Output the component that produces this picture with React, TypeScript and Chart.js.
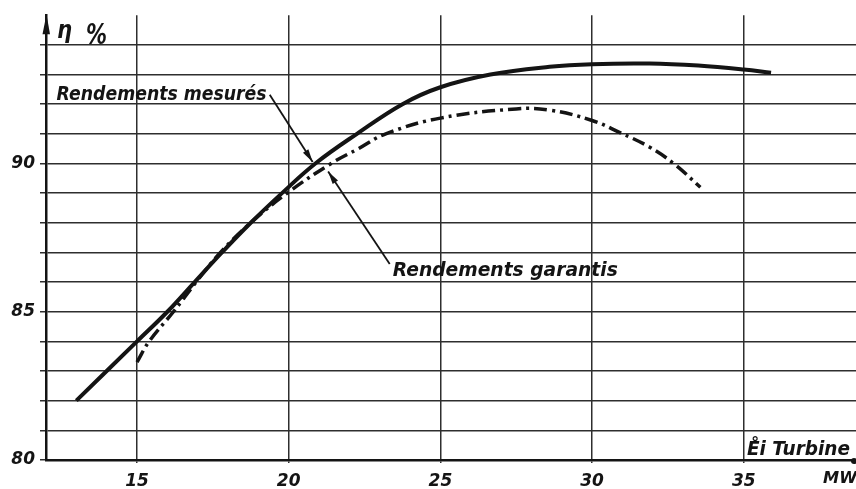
import React, { useEffect, useRef } from 'react';
import { Chart, registerables } from 'chart.js';

Chart.register(...registerables);

// Data
const measuredX = [13, 15, 16, 16.9, 17.8, 18.75, 19.78, 20.88, 22.25, 23.75, 25, 26.65, 28.6, 30, 31.9, 33.5, 35, 35.9];
const measuredY = [82, 84, 85, 86, 87, 88, 89, 90, 91, 92, 92.57, 93, 93.26, 93.35, 93.37, 93.3, 93.17, 93.06];
const guaranteedX = [15, 15.4, 16.2, 16.95, 17.75, 18.75, 19.95, 21.4, 22.3, 23.2, 25, 27.5, 28.6, 30, 30.9, 31.9, 32.7, 33.57];
const guaranteedY = [83.3, 84, 85, 86, 87, 88, 89, 90, 90.5, 91, 91.53, 91.84, 91.8, 91.45, 91.05, 90.55, 89.99, 89.2];
const xTicks = [15, 20, 25, 30, 35];
const yTicks = [80, 81, 82, 83, 84, 85, 86, 87, 88, 89, 90, 91, 92, 93, 94];
const yLabelled = [80, 85, 90];

const labelMeasured = 'Rendements mesurés';
const labelGuaranteed = 'Rendements garantis';
const yTitleSymbol = 'η';
const yTitleUnit = '%';
const xTitle = 'E\u030Ai Turbine';
const xUnit = 'MW';

const INK = '#141414';
const GRID = '#2e2e2e';
const FONT = '"DejaVu Sans", sans-serif';

function drawFit(ctx: CanvasRenderingContext2D, text: string, x: number, y: number, size: number, width?: number) {
  ctx.save();
  ctx.font = `italic bold ${size}px ${FONT}`;
  ctx.textAlign = 'left';
  ctx.textBaseline = 'alphabetic';
  ctx.fillStyle = INK;
  const w = ctx.measureText(text).width;
  ctx.translate(x, y);
  if (width) ctx.scale(width / w, 1);
  ctx.fillText(text, 0, 0);
  ctx.restore();
}

function leader(ctx: CanvasRenderingContext2D, x1: number, y1: number, x2: number, y2: number) {
  ctx.save();
  ctx.strokeStyle = INK;
  ctx.fillStyle = INK;
  ctx.lineWidth = 1.8;
  ctx.beginPath();
  ctx.moveTo(x1, y1);
  ctx.lineTo(x2, y2);
  ctx.stroke();
  const a = Math.atan2(y2 - y1, x2 - x1);
  const L = 13, H = 3.2;
  ctx.beginPath();
  ctx.moveTo(x2, y2);
  ctx.lineTo(x2 - L * Math.cos(a) + H * Math.sin(a), y2 - L * Math.sin(a) - H * Math.cos(a));
  ctx.lineTo(x2 - L * Math.cos(a) - H * Math.sin(a), y2 - L * Math.sin(a) + H * Math.cos(a));
  ctx.closePath();
  ctx.fill();
  ctx.restore();
}

const annotations = {
  id: 'annotations',
  beforeDraw(chart: any) {
    const { ctx, width, height } = chart;
    ctx.save();
    ctx.fillStyle = '#ffffff';
    ctx.fillRect(0, 0, width, height);
    ctx.restore();
  },
  afterDraw(chart: any) {
    const { ctx, chartArea, scales } = chart;
    const x = scales.x, y = scales.y;
    const px = (v: number) => x.getPixelForValue(v);
    const py = (v: number) => y.getPixelForValue(v);

    // y axis arrow
    const ax = chartArea.left;
    ctx.save();
    ctx.fillStyle = INK;
    ctx.beginPath();
    ctx.moveTo(ax + 0.5, chartArea.top - 1);
    ctx.lineTo(ax - 3.5, chartArea.top + 19);
    ctx.lineTo(ax + 4, chartArea.top + 19);
    ctx.closePath();
    ctx.fill();
    // x axis end dot
    ctx.beginPath();
    ctx.arc(chartArea.right - 2, chartArea.bottom + 1, 3, 0, Math.PI * 2);
    ctx.fill();
    ctx.restore();

    // axis titles
    drawFit(ctx, yTitleSymbol, ax + 11, chartArea.top + 23, 24, 15);
    drawFit(ctx, yTitleUnit, ax + 40, chartArea.top + 29, 28, 21);
    drawFit(ctx, xTitle, 747, chartArea.bottom - 5, 20, 103);
    drawFit(ctx, xUnit, 823, chartArea.bottom + 23, 15, 34);

    // curve labels with leaders
    drawFit(ctx, labelMeasured, px(12.35), py(92.15), 20, 210);
    leader(ctx, px(19.375), py(92.32), px(20.79), py(90.05));
    drawFit(ctx, labelGuaranteed, px(23.43), py(86.21), 20, 225);
    leader(ctx, px(23.33), py(86.61), px(21.3), py(89.73));
  },
};

export default function App() {
  const ref = useRef<HTMLCanvasElement | null>(null);

  useEffect(() => {
    document.body.style.margin = '0';
    document.body.style.background = '#ffffff';
    const canvas = ref.current;
    if (!canvas) return;
    const tickFont = { family: FONT, size: 17, style: 'italic' as const, weight: 'bold' as const };
    const chart = new Chart(canvas, {
      type: 'line',
      data: {
        datasets: [
          {
            label: labelMeasured,
            data: measuredX.map((v, i) => ({ x: v, y: measuredY[i] })),
            borderColor: INK,
            borderWidth: 4,
            pointRadius: 0,
            fill: false,
            tension: 0.4,
          },
          {
            label: labelGuaranteed,
            data: guaranteedX.map((v, i) => ({ x: v, y: guaranteedY[i] })),
            borderColor: INK,
            borderWidth: 3.5,
            borderDash: [13, 5, 3, 5],
            pointRadius: 0,
            fill: false,
            tension: 0.4,
          },
        ],
      },
      options: {
        responsive: false,
        animation: false,
        events: [],
        layout: { padding: { top: 13, right: 0, left: 0, bottom: 0 } },
        plugins: { legend: { display: false }, tooltip: { enabled: false } },
        scales: {
          x: {
            type: 'linear',
            min: 12,
            max: 38.7,
            afterBuildTicks: (s: any) => {
              s.ticks = xTicks.map((v) => ({ value: v }));
            },
            afterFit: (s: any) => {
              s.height = 29;
            },
            grid: { color: GRID, lineWidth: 1.5, tickLength: 3, drawTicks: true },
            border: { display: true, color: INK, width: 2.5 },
            ticks: {
              font: tickFont,
              color: INK,
              padding: 8,
              maxRotation: 0,
              autoSkip: false,
              callback: (v: any) => String(v),
            },
          },
          y: {
            type: 'linear',
            min: 80,
            max: 95,
            afterBuildTicks: (s: any) => {
              s.ticks = yTicks.map((v) => ({ value: v }));
            },
            afterFit: (s: any) => {
              s.width = 46;
            },
            grid: { color: GRID, lineWidth: 1.5, tickLength: 6, drawTicks: true },
            border: { display: true, color: INK, width: 2.5 },
            ticks: {
              font: tickFont,
              color: INK,
              padding: 5,
              autoSkip: false,
              callback: (v: any) => (yLabelled.includes(Number(v)) ? String(v) : ''),
            },
          },
        },
      },
      plugins: [annotations],
    });
    return () => chart.destroy();
  }, []);

  return (
    <div style={{ position: 'absolute', left: 0, top: 0, width: 856, height: 489 }}>
      <canvas ref={ref} width={856} height={489} style={{ display: 'block' }} />
    </div>
  );
}
